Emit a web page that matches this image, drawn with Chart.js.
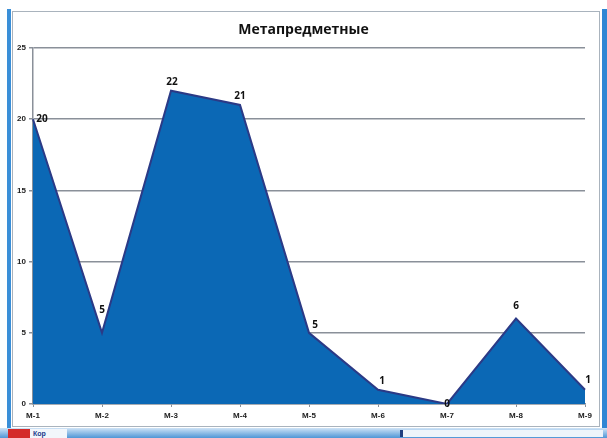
<!DOCTYPE html>
<html>
<head>
<meta charset="utf-8">
<script src="https://cdn.jsdelivr.net/npm/chart.js@4/dist/chart.umd.min.js"></script>
<style>
  html, body { margin: 0; padding: 0; background: #fff; }
  #wrap { position: relative; width: 607px; height: 438px; overflow: hidden; background: #fff; }
  #leftbar { position: absolute; left: 7px; top: 9px; width: 4px; height: 420px; background: #3a8fd8; }
  #rightbar { position: absolute; left: 602px; top: 9px; width: 5px; height: 420px; background: #2f86d4; }
  #frame { position: absolute; left: 12px; top: 11px; width: 586px; height: 414px; border: 1px solid #a9b3bd; }
  #title { position: absolute; left: 0; width: 607px; top: 19px; text-align: center;
           font: bold 14px "Open Sans", "Liberation Sans", sans-serif; color: #111; }
  #bottom { position: absolute; left: 0; top: 428px; width: 607px; height: 10px;
            background: linear-gradient(#cfe3f6, #4f96d6); }
  #tab1 { position: absolute; left: 8px; top: 429px; width: 22px; height: 9px; background: #d42a2a; }
  #tab2 { position: absolute; left: 30px; top: 429px; width: 34px; height: 9px; background: #f2f6fb;
          font: bold 7px "Liberation Sans", sans-serif; color: #1a3a8a; line-height: 9px; padding-left: 3px; }
  #scroll { position: absolute; left: 400px; top: 430px; width: 200px; height: 7px; background: #eef4fa; border-left: 3px solid #1f3f7f; }
  canvas { position: absolute; left: 0; top: 0; }
</style>
</head>
<body>
<div id="wrap">
  <div id="leftbar"></div>
  <div id="rightbar"></div>
  <div id="frame"></div>
  <div id="bottom"></div>
  <div id="tab1"></div>
  <div id="tab2">Кор</div>
  <div id="scroll"></div>
  <canvas id="chart" width="607" height="428"></canvas>
  <div id="title">Метапредметные</div>
</div>
<script>
const categories = ['М-1', 'М-2', 'М-3', 'М-4', 'М-5', 'М-6', 'М-7', 'М-8', 'М-9'];
const values = [20, 5, 22, 21, 5, 1, 0, 6, 1];
const yTicks = [0, 5, 10, 15, 20, 25];

// value labels: pixel nudges relative to each point, as Excel placed them
const labelNudge = [[9, 0], [0, -23], [1, -9], [0, -9], [6, -8], [4, -9], [0, 0], [0, -12], [3, -10]];

const valueLabels = {
  id: 'valueLabels',
  afterDatasetsDraw(chart) {
    const { ctx } = chart;
    const meta = chart.getDatasetMeta(0);
    ctx.save();
    ctx.font = 'bold 10px "Open Sans", "Liberation Sans", sans-serif';
    ctx.fillStyle = '#111';
    ctx.textAlign = 'center';
    ctx.textBaseline = 'middle';
    meta.data.forEach((pt, i) => {
      const [dx, dy] = labelNudge[i];
      ctx.fillText(values[i], pt.x + dx, pt.y + dy);
    });
    ctx.restore();
  }
};

new Chart(document.getElementById('chart'), {
  type: 'line',
  data: {
    labels: categories,
    datasets: [{
      data: values,
      borderColor: '#2b3a86',
      backgroundColor: '#0b68b5',
      borderWidth: 2,
      pointRadius: 0,
      tension: 0,
      fill: 'origin'
    }]
  },
  options: {
    responsive: false,
    animation: false,
    layout: { padding: { left: 0, right: 22, top: 48, bottom: 0 } },
    plugins: { legend: { display: false }, tooltip: { enabled: false } },
    scales: {
      x: {
        offset: false,
        afterFit: s => { s.height = 24; },
        grid: { drawOnChartArea: false, color: '#8a9099', tickLength: 3 },
        border: { color: '#8a9099', width: 1.5 },
        ticks: { color: '#222', font: { size: 8, weight: 'bold', family: '"Liberation Sans", sans-serif' }, padding: 4, maxRotation: 0 }
      },
      y: {
        min: 0,
        max: 25,
        afterFit: s => { s.width = 33; },
        afterBuildTicks: s => { s.ticks = yTicks.map(v => ({ value: v })); },
        grid: { color: '#8a9099', lineWidth: 1.5, tickLength: 4 },
        border: { color: '#8a9099', width: 1.5 },
        ticks: { color: '#222', font: { size: 8, weight: 'bold', family: '"Liberation Sans", sans-serif' }, padding: 3 }
      }
    }
  },
  plugins: [valueLabels]
});
</script>
</body>
</html>
